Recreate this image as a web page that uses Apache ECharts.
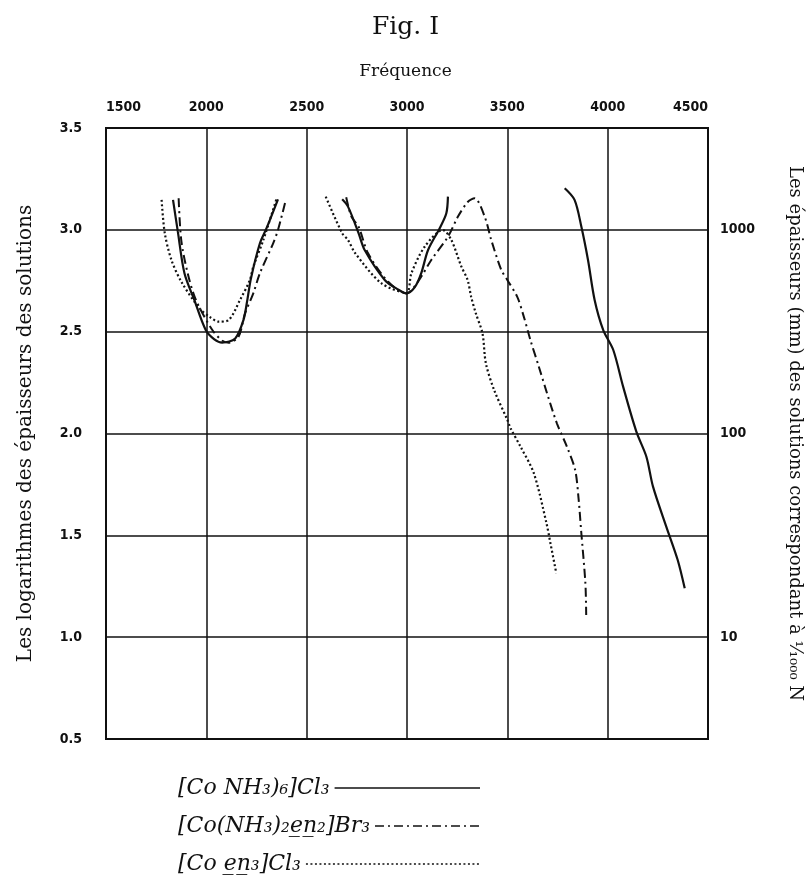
<!DOCTYPE html>
<html>
<head>
<meta charset="utf-8">
<script src="https://cdn.jsdelivr.net/npm/echarts@6/dist/echarts.min.js"></script>
<style>
  html, body { margin: 0; padding: 0; background: #fff; }
  #main { width: 811px; height: 881px; }
</style>
</head>
<body>
<div id="main"></div>
<script>
// axe des fréquences (haut) et des logarithmes (gauche)
const freqTicks = [1500, 2000, 2500, 3000, 3500, 4000, 4500];
const logTicks = [0.5, 1.0, 1.5, 2.0, 2.5, 3.0, 3.5];
// axe de droite : épaisseurs en mm
const thicknessLogs = [1, 2, 3];
const thicknessLabels = ['10', '100', '1000'];

const compoundNames = [
  '[Co NH₃)₆]Cl₃',
  '[Co(NH₃)₂e̲n̲₂]Br₃',
  '[Co e̲n̲₃]Cl₃'
];

// [Co NH3)6]Cl3 - trait plein
const hexBand1 = [[1834, 3.147], [1858, 2.991], [1891, 2.787], [1940, 2.656], [1997, 2.508], [2040, 2.462],
  [2079, 2.446], [2144, 2.467], [2185, 2.557], [2205, 2.66], [2222, 2.76], [2267, 2.934], [2300, 3.008], [2357, 3.150]];
const hexBand2 = [[2677, 3.150], [2706, 3.114], [2759, 2.983], [2789, 2.901], [2889, 2.754], [2950, 2.71],
  [2997, 2.688], [3040, 2.72], [3071, 2.787], [3105, 2.901], [3163, 3.008], [3196, 3.081], [3204, 3.163]];
const hexBand3 = [[3786, 3.204], [3835, 3.147], [3869, 3.015], [3902, 2.852], [3935, 2.656], [3978, 2.508],
  [4028, 2.410], [4077, 2.230], [4143, 2.009], [4193, 1.886], [4226, 1.739], [4292, 1.543], [4349, 1.379], [4384, 1.240]];

// [Co(NH3)2en2]Br3 - trait mixte
const bromBand1 = [[1862, 3.155], [1875, 2.950], [1907, 2.787], [1948, 2.656], [2030, 2.508], [2080, 2.455],
  [2111, 2.446], [2160, 2.474], [2193, 2.590], [2234, 2.688], [2267, 2.787], [2333, 2.934], [2357, 2.999], [2395, 3.143]];
const bromBand2 = [[2697, 3.160], [2723, 3.065], [2759, 3.015], [2806, 2.885], [2905, 2.746], [2997, 2.688],
  [3055, 2.746], [3121, 2.852], [3204, 2.966], [3254, 3.065], [3304, 3.138], [3337, 3.155], [3387, 3.065],
  [3420, 2.950], [3470, 2.803], [3500, 2.754], [3549, 2.672], [3582, 2.574], [3615, 2.459], [3657, 2.328],
  [3698, 2.197], [3747, 2.050], [3797, 1.935], [3838, 1.821], [3855, 1.68], [3868, 1.52], [3889, 1.265], [3893, 1.109]];

// [Co en3]Cl3 - pointillé
const enBand1 = [[1777, 3.147], [1793, 2.983], [1826, 2.852], [1875, 2.746], [1965, 2.616], [2020, 2.57],
  [2062, 2.549], [2111, 2.557], [2168, 2.656], [2217, 2.754], [2234, 2.819], [2284, 2.950], [2349, 3.150]];
const enBand2 = [[2595, 3.163], [2677, 2.983], [2706, 2.950], [2742, 2.885], [2872, 2.738], [2997, 2.691],
  [3022, 2.787], [3088, 2.917], [3179, 2.999], [3221, 2.950], [3271, 2.819], [3302, 2.754], [3320, 2.67],
  [3343, 2.590], [3376, 2.492], [3393, 2.345], [3434, 2.214], [3500, 2.067], [3516, 2.026], [3566, 1.935],
  [3632, 1.805], [3695, 1.56], [3715, 1.46], [3744, 1.314]];

const gap = [['-', '-']];
const ink = '#111';
const tickFont = {
  fontFamily: '"Liberation Sans Narrow", "DejaVu Sans Condensed", sans-serif',
  fontWeight: 'bold',
  fontSize: 14,
  color: ink
};
const legendFontSize = 22;

function measure(text) {
  const ctx = document.createElement('canvas').getContext('2d');
  ctx.font = 'italic ' + legendFontSize + 'px "DejaVu Serif"';
  return ctx.measureText(text).width;
}

const chart = echarts.init(document.getElementById('main'));
const legendLeft = 173;
const legendEnd = 475;
const legendTops = [772, 810, 848];

const option = {
  backgroundColor: '#fff',
  animation: false,
  title: [
    { text: 'Fig. I', left: 'center', top: 10,
      textStyle: { fontFamily: 'DejaVu Serif', fontWeight: 'normal', fontSize: 25, color: ink } },
    { text: 'Fréquence', left: 'center', top: 58,
      textStyle: { fontFamily: 'DejaVu Serif', fontWeight: 'normal', fontSize: 17, color: ink } }
  ],
  grid: {
    left: 106, right: 103, top: 128, bottom: 142,
    outerBoundsMode: 'none',
    show: true, borderColor: ink, borderWidth: 2, backgroundColor: 'transparent'
  },
  xAxis: {
    type: 'value',
    position: 'top',
    min: freqTicks[0],
    max: freqTicks[freqTicks.length - 1],
    interval: freqTicks[1] - freqTicks[0],
    axisLine: { show: false },
    axisTick: { show: false },
    axisLabel: Object.assign({
      margin: 14, alignMinLabel: 'left', alignMaxLabel: 'right',
      formatter: v => String(v)
    }, tickFont),
    splitLine: { show: true, lineStyle: { color: ink, width: 1.5 } }
  },
  yAxis: [
    {
      type: 'value',
      min: logTicks[0],
      max: logTicks[logTicks.length - 1],
      interval: logTicks[1] - logTicks[0],
      name: 'Les logarithmes des épaisseurs des solutions',
      nameLocation: 'middle',
      nameRotate: 90,
      nameGap: 70,
      nameTextStyle: { fontFamily: 'DejaVu Serif', fontSize: 20, color: ink },
      axisLine: { show: false },
      axisTick: { show: false },
      axisLabel: Object.assign({ margin: 24, formatter: v => v.toFixed(1) }, tickFont),
      splitLine: { show: true, lineStyle: { color: ink, width: 1.5 } }
    },
    {
      type: 'value',
      position: 'right',
      min: logTicks[0],
      max: logTicks[logTicks.length - 1],
      interval: logTicks[1] - logTicks[0],
      name: 'Les épaisseurs (mm) des solutions correspondant à ¹⁄₁₀₀₀ N',
      nameLocation: 'middle',
      nameRotate: -90,
      nameGap: 78,
      nameTextStyle: { fontFamily: 'DejaVu Serif', fontSize: 18, color: ink },
      axisLine: { show: false },
      axisTick: { show: false },
      axisLabel: Object.assign({
        margin: 12,
        formatter: v => {
          const i = thicknessLogs.indexOf(Math.round(v * 10) / 10);
          return i >= 0 ? thicknessLabels[i] : '';
        }
      }, tickFont),
      splitLine: { show: false }
    }
  ],
  legend: compoundNames.map((name, i) => ({
    data: [name],
    left: legendLeft,
    top: legendTops[i],
    orient: 'vertical',
    align: 'right',
    selectedMode: false,
    itemWidth: Math.max(20, legendEnd - legendLeft - 5 - measure(name)),
    itemHeight: 14,
    itemStyle: { opacity: 0, borderWidth: 0 },
    lineStyle: { width: 1.5 },
    textStyle: { fontFamily: 'DejaVu Serif', fontStyle: 'italic', fontSize: legendFontSize, color: ink }
  })),
  series: [
    {
      name: compoundNames[0],
      type: 'line',
      symbol: 'none',
      smooth: 0.3,
      data: hexBand1.concat(gap, hexBand2, gap, hexBand3),
      lineStyle: { color: ink, width: 2.2, type: 'solid' },
      itemStyle: { color: ink }
    },
    {
      name: compoundNames[1],
      type: 'line',
      symbol: 'none',
      smooth: 0.3,
      data: bromBand1.concat(gap, bromBand2),
      lineStyle: { color: ink, width: 2, type: [9, 4, 2, 4] },
      itemStyle: { color: ink }
    },
    {
      name: compoundNames[2],
      type: 'line',
      symbol: 'none',
      smooth: 0.3,
      data: enBand1.concat(gap, enBand2),
      lineStyle: { color: ink, width: 2.2, type: [2, 2.5] },
      itemStyle: { color: ink }
    }
  ]
};

chart.setOption(option);
</script>
</body>
</html>
